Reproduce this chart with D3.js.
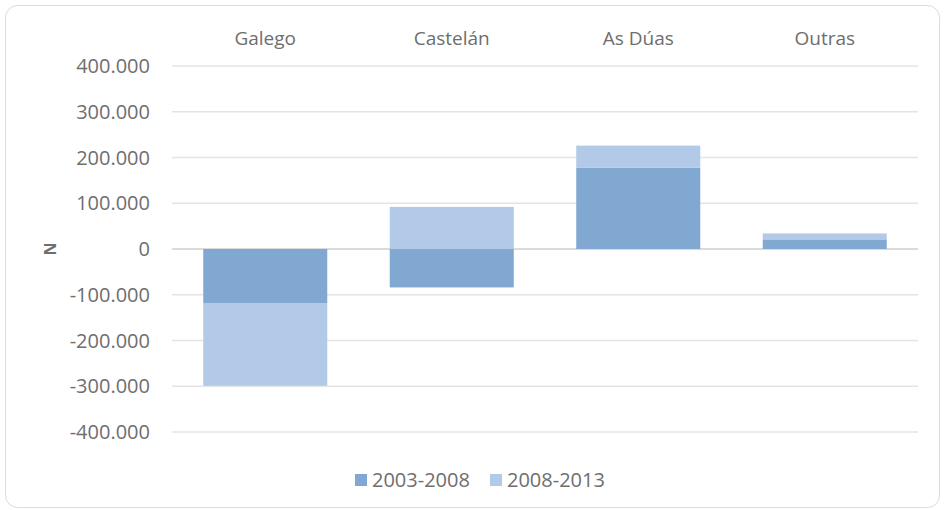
<html>
<head>
<script src="https://d3js.org/d3.v7.min.js"></script>
<style>
body { margin: 0; background: #fff; font-family: 'Open Sans', sans-serif; }
text { fill: #6e6e6e; }
</style>
</head>
<body>
<svg></svg>
<script>

var width = 944;
var height = 510;

// data
var categories = ["Galego", "Castelán", "As Dúas", "Outras"];
var series = ["2003-2008", "2008-2013"];
var values0308 = [-118000, -84000, 178000, 21000];
var values0813 = [-181000, 92000, 48000, 13000];
var yTicks = [-400000, -300000, -200000, -100000, 0, 100000, 200000, 300000, 400000];
var colors = ["#80a8d0", "#b2cae7"];

var svg = d3.select("svg").attr("width", width).attr("height", height);

// outer frame
svg.append("rect")
.attr("x", 5.5).attr("y", 5.5)
.attr("width", width - 10).attr("height", height - 8)
.attr("rx", 12)
.style("fill", "#fff")
.style("stroke", "#dcdcdc")
.style("stroke-width", 1);

var rows = categories.map(function (c, i) {
	return { "cat": c, "2003-2008": values0308[i], "2008-2013": values0813[i] };
});

var stacked = d3.stack().keys(series).offset(d3.stackOffsetDiverging)(rows);

var xScale = d3.scaleBand()
.domain(categories)
.range([172, 918])
.paddingInner(0.335)
.paddingOuter(0.1675);

var yScale = d3.scaleLinear()
.domain([-400000, 400000])
.range([432, 66]);

var locale = d3.formatLocale({ decimal: ",", thousands: ".", grouping: [3], currency: ["", "€"], minus: "-" });
var fmt = locale.format(",d");

// gridlines
svg.append("g").selectAll("line").data(yTicks).enter().append("line")
.attr("x1", 172).attr("x2", 918)
.attr("y1", function (d) { return yScale(d); })
.attr("y2", function (d) { return yScale(d); })
.style("stroke", function (d) { return d === 0 ? "#cfcfcf" : "#e4e4e4"; })
.style("stroke-width", 1.5);

// tick labels
svg.append("g").selectAll("text").data(yTicks).enter().append("text")
.attr("x", 150)
.attr("y", function (d) { return yScale(d); })
.attr("dy", "0.35em")
.attr("text-anchor", "end")
.style("font-size", "20px")
.text(function (d) { return fmt(d); });

// category labels on top
svg.append("g").selectAll("text").data(categories).enter().append("text")
.attr("x", function (d) { return xScale(d) + xScale.bandwidth() / 2; })
.attr("y", 38)
.attr("dy", "0.35em")
.attr("text-anchor", "middle")
.style("font-size", "19px")
.text(function (d) { return d; });

// axis title
svg.append("text")
.attr("transform", "translate(50,249) rotate(-90)")
.attr("dy", "0.35em")
.attr("text-anchor", "middle")
.style("font-size", "16px")
.style("font-weight", "bold")
.text("N");

// bars
svg.append("g").selectAll("g").data(stacked).enter().append("g")
.style("fill", function (d, i) { return colors[i]; })
.selectAll("rect").data(function (d) { return d; }).enter().append("rect")
.attr("x", function (d) { return xScale(d.data.cat); })
.attr("width", xScale.bandwidth())
.attr("y", function (d) { return yScale(Math.max(d[0], d[1])); })
.attr("height", function (d) { return Math.abs(yScale(d[0]) - yScale(d[1])); });

// legend
var legendX = [355, 490];
var legend = svg.append("g").selectAll("g").data(series).enter().append("g")
.attr("transform", function (d, i) { return "translate(" + legendX[i] + ",480)"; });
legend.append("rect")
.attr("x", 0).attr("y", -6)
.attr("width", 12).attr("height", 12)
.style("fill", function (d, i) { return colors[i]; });
legend.append("text")
.attr("x", 17)
.attr("dy", "0.35em")
.style("font-size", "20px")
.text(function (d) { return d; });

</script>
</body>
</html>
